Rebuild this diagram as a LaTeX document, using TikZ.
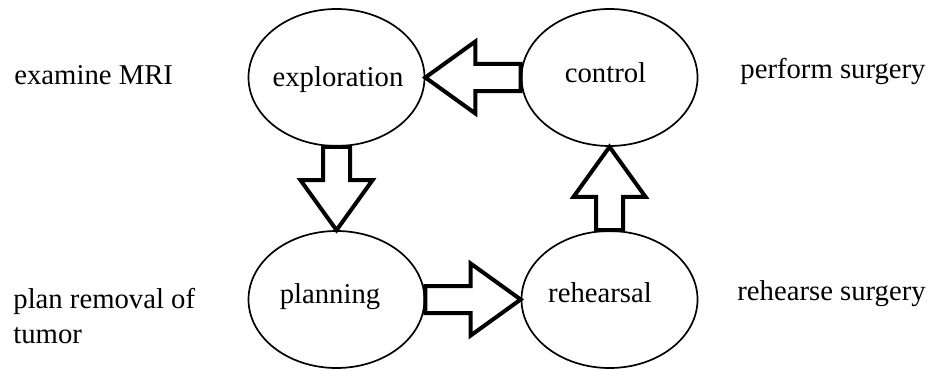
\documentclass[tikz,border=0pt]{standalone}
\usepackage{fontspec}
\setmainfont{Liberation Serif}
\usetikzlibrary{shapes.geometric,calc}

\tikzset{
  stage/.style={draw, ellipse, line width=0.85pt, inner sep=0pt,
    minimum width=88pt, minimum height=68.5pt},
  word/.style={inner sep=0pt, font=\fontsize{14.35}{17.5}\selectfont},
  blockarrow/.style={draw, fill=white, line width=2pt, line join=miter},
}

\begin{document}
\begin{tikzpicture}[x=0.5pt, y=-0.5pt]
  \useasboundingbox (0,0) rectangle (929,369);

  % the four stages of the cycle
  \node[stage] (explore)   at (336.5,77.5)  {};
  \node[stage] (control)   at (609.5,77.5)  {};
  \node[stage] (planning)  at (336.5,299.5) {};
  \node[stage] (rehearsal) at (609.5,299.5) {};

  \node[word, anchor=base] (texplore)   at (338,87)   {exploration};
  \node[word, anchor=base] (tcontrol)   at (605.5,83) {control};
  \node[word, anchor=base] (tplanning)  at (330,303)  {planning};
  \node[word, anchor=base] (trehearsal) at (600,302)  {rehearsal};

  % side notes (the two-line note is anchored on its last line)
  \node[word, anchor=base west] (nexamine) at (14,84) {examine MRI};
  \node[word, anchor=base west] (nperform) at (740,78) {perform surgery};
  \node[word, anchor=base west, align=left] (nplan) at (13,343)
    {plan removal of\\tumor};
  \node[word, anchor=base west] (nrehearse) at (737,300) {rehearse surgery};

  % block arrows between the stages
  % control -> exploration
  \draw[blockarrow] (explore.east) -- ($(explore.east)+(50,-36)$)
    -- ($(explore.east)+(50,-13.5)$) -- ($(control.west)+(0,-13.5)$)
    -- ($(control.west)+(0,13.5)$) -- ($(explore.east)+(50,13.5)$)
    -- ($(explore.east)+(50,36)$) -- cycle;
  % exploration -> planning
  \draw[blockarrow] ($(explore.south)+(-13.5,0)$) -- ($(planning.north)+(-13.5,-50)$)
    -- ($(planning.north)+(-36,-50)$) -- (planning.north)
    -- ($(planning.north)+(36,-50)$) -- ($(planning.north)+(13.5,-50)$)
    -- ($(explore.south)+(13.5,0)$) -- cycle;
  % planning -> rehearsal
  \draw[blockarrow] ($(planning.east)+(0,-13.5)$) -- ($(rehearsal.west)+(-50,-13.5)$)
    -- ($(rehearsal.west)+(-50,-36)$) -- (rehearsal.west)
    -- ($(rehearsal.west)+(-50,36)$) -- ($(rehearsal.west)+(-50,13.5)$)
    -- ($(planning.east)+(0,13.5)$) -- cycle;
  % rehearsal -> control
  \draw[blockarrow] ($(rehearsal.north)+(-13.5,0)$) -- ($(control.south)+(-13.5,50)$)
    -- ($(control.south)+(-36,50)$) -- (control.south)
    -- ($(control.south)+(36,50)$) -- ($(control.south)+(13.5,50)$)
    -- ($(rehearsal.north)+(13.5,0)$) -- cycle;
\end{tikzpicture}
\end{document}
